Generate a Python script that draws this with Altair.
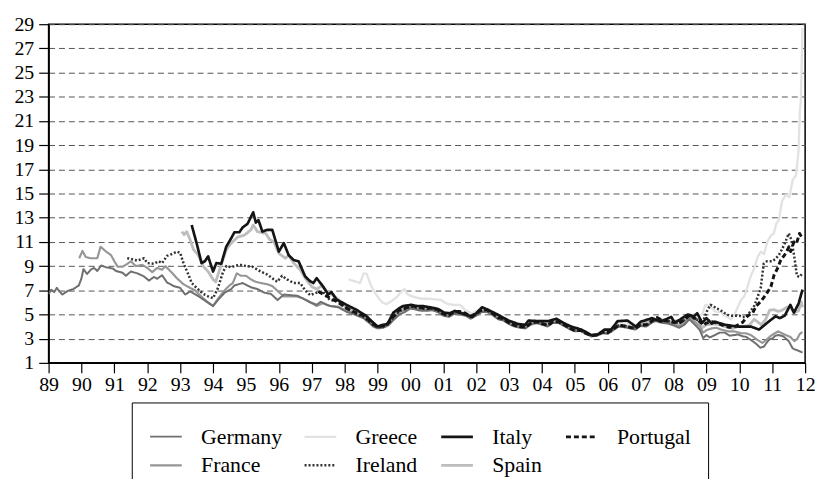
import altair as alt
import pandas as pd

GERMANY = [(1989.00,6.7),(1989.08,7.05),(1989.17,6.85),(1989.25,7.2),(1989.33,6.9),(1989.42,6.65),(1989.58,6.95),(1989.75,7.1),(1989.92,7.4),(1990.00,8.0),(1990.06,8.75),(1990.17,8.35),(1990.28,8.7),(1990.38,8.85),(1990.48,8.6),(1990.60,9.05),(1990.75,8.9),(1990.95,8.8),(1991.05,8.6),(1991.25,8.45),(1991.35,8.2),(1991.50,8.55),(1991.70,8.4),(1991.90,8.15),(1992.05,7.8),(1992.20,8.1),(1992.30,7.95),(1992.45,8.25),(1992.60,7.65),(1992.80,7.35),(1993.00,7.2),(1993.15,6.65),(1993.30,6.9),(1993.50,6.6),(1993.67,6.3),(1993.83,6.0),(1994.00,5.7),(1994.15,6.2),(1994.35,6.8),(1994.55,7.1),(1994.65,7.4),(1994.90,7.6),(1995.15,7.25),(1995.35,7.1),(1995.56,6.8),(1995.76,6.7),(1995.96,6.2),(1996.16,6.65),(1996.35,6.6),(1996.56,6.55),(1996.75,6.3),(1996.97,6.0),(1997.15,5.8),(1997.27,6.05),(1997.45,5.8),(1997.57,5.7),(1997.80,5.6),(1998.07,5.2),(1998.30,5.0),(1998.57,4.7),(1998.75,4.3),(1998.87,4.0),(1999.00,3.85),(1999.17,3.9),(1999.33,4.1),(1999.47,4.5),(1999.67,5.0),(1999.83,5.2),(2000.00,5.5),(2000.17,5.4),(2000.33,5.3),(2000.50,5.3),(2000.67,5.35),(2000.83,5.2),(2001.00,4.9),(2001.17,4.8),(2001.33,5.05),(2001.50,5.0),(2001.67,4.9),(2001.83,4.65),(2002.00,4.9),(2002.17,5.2),(2002.33,5.2),(2002.50,4.95),(2002.67,4.6),(2002.83,4.5),(2003.00,4.2),(2003.17,4.0),(2003.33,3.9),(2003.50,3.85),(2003.67,4.2),(2003.83,4.3),(2004.00,4.15),(2004.17,4.0),(2004.33,4.3),(2004.50,4.3),(2004.67,4.05),(2004.83,3.8),(2005.00,3.6),(2005.17,3.65),(2005.33,3.4),(2005.50,3.2),(2005.67,3.25),(2005.83,3.45),(2006.00,3.4),(2006.17,3.7),(2006.33,4.0),(2006.50,3.95),(2006.67,3.85),(2006.83,3.75),(2007.00,4.05),(2007.17,4.0),(2007.33,4.3),(2007.50,4.55),(2007.67,4.3),(2007.83,4.25),(2008.00,4.1),(2008.17,3.9),(2008.33,4.15),(2008.48,4.6),(2008.67,4.1),(2008.80,3.7),(2008.90,3.05),(2009.00,3.3),(2009.10,3.1),(2009.26,3.3),(2009.40,3.5),(2009.56,3.5),(2009.70,3.25),(2009.85,3.3),(2009.95,3.35),(2010.10,3.2),(2010.20,3.15),(2010.35,2.9),(2010.50,2.6),(2010.64,2.25),(2010.75,2.35),(2010.84,2.7),(2010.92,2.95),(2011.00,3.0),(2011.10,3.25),(2011.20,3.3),(2011.33,3.2),(2011.42,3.0),(2011.50,2.8),(2011.62,2.2),(2011.70,2.1),(2011.80,2.0),(2011.92,1.85)]

FRANCE = [(1989.93,9.65),(1990.03,10.25),(1990.13,9.75),(1990.28,9.65),(1990.48,9.65),(1990.58,10.6),(1990.75,10.2),(1990.90,9.9),(1991.00,9.4),(1991.10,8.95),(1991.25,8.95),(1991.40,9.2),(1991.50,9.4),(1991.65,9.0),(1991.85,9.1),(1992.00,8.85),(1992.15,8.5),(1992.30,8.85),(1992.45,8.7),(1992.55,9.0),(1992.75,8.45),(1992.90,8.0),(1993.10,7.5),(1993.30,7.2),(1993.45,7.0),(1993.60,6.6),(1993.80,6.1),(1994.00,5.7),(1994.15,6.3),(1994.35,7.0),(1994.50,7.4),(1994.60,7.6),(1994.72,8.4),(1994.85,8.2),(1995.00,8.2),(1995.15,7.9),(1995.30,7.7),(1995.45,7.6),(1995.65,7.5),(1995.80,7.35),(1996.00,6.85),(1996.15,6.5),(1996.35,6.5),(1996.55,6.5),(1996.75,6.3),(1996.95,6.0),(1997.15,5.7),(1997.35,5.95),(1997.55,5.7),(1997.80,5.65),(1998.07,5.3),(1998.30,5.1),(1998.57,4.8),(1998.75,4.4),(1998.87,4.1),(1999.00,3.95),(1999.17,4.0),(1999.33,4.2),(1999.47,4.6),(1999.67,5.2),(1999.83,5.35),(2000.00,5.6),(2000.17,5.5),(2000.33,5.4),(2000.50,5.4),(2000.67,5.45),(2000.83,5.3),(2001.00,5.0),(2001.17,4.9),(2001.33,5.2),(2001.50,5.15),(2001.67,5.0),(2001.83,4.75),(2002.00,5.0),(2002.17,5.3),(2002.33,5.3),(2002.50,5.0),(2002.67,4.65),(2002.83,4.55),(2003.00,4.25),(2003.17,4.05),(2003.33,3.95),(2003.50,3.9),(2003.67,4.25),(2003.83,4.35),(2004.00,4.2),(2004.17,4.05),(2004.33,4.35),(2004.50,4.35),(2004.67,4.1),(2004.83,3.85),(2005.00,3.65),(2005.17,3.7),(2005.33,3.45),(2005.50,3.25),(2005.67,3.3),(2005.83,3.5),(2006.00,3.45),(2006.17,3.75),(2006.33,4.05),(2006.50,4.0),(2006.67,3.9),(2006.83,3.8),(2007.00,4.1),(2007.17,4.05),(2007.33,4.35),(2007.50,4.6),(2007.67,4.4),(2007.83,4.35),(2008.00,4.2),(2008.17,4.05),(2008.33,4.3),(2008.48,4.75),(2008.67,4.35),(2008.80,4.0),(2008.90,3.5),(2009.00,3.7),(2009.15,3.85),(2009.30,3.9),(2009.45,3.75),(2009.66,3.6),(2009.85,3.6),(2010.05,3.45),(2010.20,3.45),(2010.35,3.3),(2010.55,2.9),(2010.70,2.65),(2010.82,2.9),(2010.94,3.2),(2011.05,3.4),(2011.18,3.6),(2011.33,3.4),(2011.45,3.25),(2011.55,3.15),(2011.67,2.8),(2011.75,2.95),(2011.84,3.4),(2011.92,3.55)]

IRELAND = [(1991.39,9.65),(1991.50,9.6),(1991.70,9.45),(1991.90,9.65),(1992.00,9.25),(1992.20,9.2),(1992.35,9.4),(1992.45,9.25),(1992.60,9.85),(1992.75,10.0),(1992.90,10.2),(1993.00,10.1),(1993.10,9.25),(1993.25,8.3),(1993.35,7.6),(1993.50,7.2),(1993.70,6.7),(1993.85,6.5),(1994.00,6.35),(1994.15,7.2),(1994.30,8.5),(1994.40,9.0),(1994.55,8.9),(1994.70,9.05),(1994.85,9.1),(1995.00,9.0),(1995.20,8.95),(1995.45,8.55),(1995.65,8.3),(1995.95,7.7),(1996.10,8.2),(1996.25,7.9),(1996.45,7.6),(1996.65,7.6),(1996.80,7.0),(1996.95,6.6),(1997.15,6.8),(1997.35,6.85),(1997.55,6.2),(1997.80,6.1),(1998.07,5.5),(1998.30,5.1),(1998.57,4.8),(1998.75,4.4),(1998.87,4.15),(1999.00,3.95),(1999.17,4.0),(1999.33,4.25),(1999.47,4.7),(1999.67,5.3),(1999.83,5.45),(2000.00,5.65),(2000.17,5.55),(2000.33,5.5),(2000.50,5.45),(2000.67,5.5),(2000.83,5.35),(2001.00,5.0),(2001.17,4.9),(2001.33,5.2),(2001.50,5.2),(2001.67,5.05),(2001.83,4.8),(2002.00,5.05),(2002.17,5.35),(2002.33,5.35),(2002.50,5.05),(2002.67,4.7),(2002.83,4.6),(2003.00,4.3),(2003.17,4.1),(2003.33,4.0),(2003.50,3.95),(2003.67,4.3),(2003.83,4.4),(2004.00,4.25),(2004.17,4.1),(2004.33,4.4),(2004.50,4.4),(2004.67,4.15),(2004.83,3.9),(2005.00,3.7),(2005.17,3.7),(2005.33,3.45),(2005.50,3.25),(2005.67,3.3),(2005.83,3.5),(2006.00,3.5),(2006.17,3.8),(2006.33,4.1),(2006.50,4.05),(2006.67,3.95),(2006.83,3.85),(2007.00,4.15),(2007.17,4.1),(2007.33,4.4),(2007.50,4.7),(2007.67,4.5),(2007.83,4.45),(2008.00,4.35),(2008.17,4.3),(2008.33,4.55),(2008.48,4.9),(2008.67,4.6),(2008.80,4.5),(2008.92,4.6),(2009.02,5.3),(2009.12,5.8),(2009.21,5.7),(2009.30,5.5),(2009.40,5.4),(2009.56,5.1),(2009.70,4.9),(2009.85,4.9),(2010.00,4.9),(2010.10,4.8),(2010.20,4.8),(2010.35,5.3),(2010.45,5.7),(2010.55,6.4),(2010.65,7.2),(2010.74,9.2),(2010.84,9.4),(2011.00,9.4),(2011.10,9.6),(2011.20,9.9),(2011.30,10.4),(2011.40,11.0),(2011.50,11.7),(2011.58,11.2),(2011.67,9.8),(2011.75,8.2),(2011.83,8.1),(2011.92,8.4)]

GREECE = [(1998.12,7.9),(1998.30,7.75),(1998.47,7.6),(1998.58,8.4),(1998.67,8.35),(1998.80,7.4),(1998.92,6.8),(1999.05,6.3),(1999.15,6.0),(1999.27,5.85),(1999.42,6.1),(1999.57,6.4),(1999.70,6.8),(1999.82,7.1),(1999.90,6.7),(2000.00,6.55),(2000.17,6.4),(2000.35,6.3),(2000.57,6.3),(2000.75,6.25),(2000.93,6.2),(2001.10,5.9),(2001.28,5.8),(2001.50,5.8),(2001.68,5.35),(2001.88,5.05),(2002.00,5.3),(2002.18,5.55),(2002.38,5.45),(2002.68,5.0),(2002.98,4.5),(2003.28,4.3),(2003.49,4.1),(2003.59,4.3),(2003.89,4.5),(2004.19,4.45),(2004.44,4.6),(2004.69,4.3),(2004.89,3.95),(2005.20,3.75),(2005.50,3.3),(2005.70,3.35),(2005.90,3.7),(2006.10,3.75),(2006.30,4.35),(2006.60,4.35),(2006.85,4.0),(2007.00,4.35),(2007.35,4.65),(2007.60,4.6),(2007.93,4.55),(2008.18,4.45),(2008.43,4.9),(2008.62,5.0),(2008.75,4.9),(2008.87,5.0),(2008.97,5.8),(2009.10,5.7),(2009.26,5.25),(2009.45,5.2),(2009.60,4.85),(2009.75,4.6),(2009.85,5.0),(2009.95,5.6),(2010.05,6.2),(2010.15,6.5),(2010.25,7.3),(2010.35,8.2),(2010.45,8.8),(2010.55,9.7),(2010.65,10.2),(2010.75,10.0),(2010.85,11.0),(2010.95,11.5),(2011.05,11.7),(2011.12,12.5),(2011.20,12.8),(2011.30,14.4),(2011.42,14.9),(2011.52,14.7),(2011.62,16.1),(2011.72,16.5),(2011.80,18.5),(2011.84,21.8),(2011.87,22.6),(2011.92,28.7)]

ITALY = [(1993.35,12.4),(1993.50,10.9),(1993.65,9.25),(1993.75,9.4),(1993.85,9.8),(1994.00,8.55),(1994.10,9.25),(1994.25,9.2),(1994.40,10.6),(1994.55,11.3),(1994.65,11.8),(1994.80,11.8),(1994.90,12.2),(1995.05,12.5),(1995.22,13.45),(1995.30,12.6),(1995.38,12.8),(1995.50,11.85),(1995.65,12.0),(1995.80,12.0),(1996.00,10.2),(1996.15,10.9),(1996.30,9.9),(1996.45,9.5),(1996.60,9.4),(1996.80,8.15),(1996.95,7.75),(1997.05,7.6),(1997.15,8.0),(1997.35,7.3),(1997.50,6.65),(1997.60,6.85),(1997.75,6.25),(1998.05,5.8),(1998.35,5.4),(1998.65,4.9),(1998.80,4.5),(1999.00,4.0),(1999.17,4.15),(1999.30,4.2),(1999.48,5.15),(1999.65,5.5),(1999.78,5.7),(2000.03,5.8),(2000.20,5.7),(2000.38,5.7),(2000.68,5.55),(2000.85,5.45),(2001.03,5.15),(2001.20,5.1),(2001.35,5.3),(2001.48,5.15),(2001.68,5.0),(2001.88,4.8),(2002.00,5.1),(2002.18,5.6),(2002.38,5.35),(2002.68,4.95),(2002.98,4.5),(2003.28,4.2),(2003.49,4.15),(2003.59,4.5),(2003.89,4.45),(2004.19,4.45),(2004.44,4.65),(2004.69,4.25),(2004.89,4.0),(2005.20,3.75),(2005.50,3.3),(2005.70,3.35),(2005.90,3.75),(2006.10,3.75),(2006.30,4.45),(2006.60,4.5),(2006.85,4.0),(2007.00,4.4),(2007.35,4.7),(2007.60,4.4),(2007.93,4.8),(2008.03,4.35),(2008.18,4.55),(2008.43,5.0),(2008.62,4.85),(2008.72,5.1),(2008.87,4.3),(2009.00,4.7),(2009.16,4.25),(2009.26,4.4),(2009.56,4.15),(2009.95,4.0),(2010.35,4.0),(2010.60,3.75),(2010.84,4.3),(2011.10,4.85),(2011.23,4.7),(2011.38,4.9),(2011.55,5.8),(2011.66,5.15),(2011.80,5.9),(2011.92,7.05)]

PORTUGAL = [(1997.20,6.9),(1997.40,6.6),(1997.60,6.3),(1997.80,6.0),(1998.07,5.5),(1998.30,5.2),(1998.57,4.9),(1998.75,4.5),(1998.87,4.2),(1999.00,4.0),(1999.17,4.05),(1999.33,4.3),(1999.47,4.8),(1999.67,5.4),(1999.83,5.5),(2000.00,5.7),(2000.17,5.65),(2000.33,5.55),(2000.50,5.5),(2000.67,5.55),(2000.83,5.4),(2001.00,5.05),(2001.17,4.95),(2001.33,5.25),(2001.50,5.25),(2001.67,5.1),(2001.83,4.85),(2002.00,5.1),(2002.17,5.4),(2002.33,5.4),(2002.50,5.1),(2002.67,4.75),(2002.83,4.65),(2003.00,4.3),(2003.17,4.1),(2003.33,4.0),(2003.50,3.95),(2003.67,4.3),(2003.83,4.4),(2004.00,4.25),(2004.17,4.1),(2004.33,4.4),(2004.50,4.4),(2004.67,4.15),(2004.83,3.9),(2005.00,3.65),(2005.17,3.7),(2005.33,3.45),(2005.50,3.25),(2005.67,3.3),(2005.83,3.55),(2006.00,3.5),(2006.17,3.8),(2006.33,4.1),(2006.50,4.05),(2006.67,3.95),(2006.83,3.85),(2007.00,4.15),(2007.17,4.15),(2007.33,4.45),(2007.50,4.75),(2007.67,4.5),(2007.83,4.45),(2008.00,4.35),(2008.17,4.3),(2008.33,4.55),(2008.48,4.95),(2008.67,4.65),(2008.80,4.4),(2008.92,4.1),(2009.00,4.3),(2009.17,4.4),(2009.33,4.3),(2009.50,4.1),(2009.67,3.95),(2009.83,3.95),(2010.00,4.2),(2010.10,4.35),(2010.26,4.9),(2010.41,5.15),(2010.51,5.7),(2010.66,6.1),(2010.81,6.65),(2010.96,7.3),(2011.06,8.3),(2011.16,8.8),(2011.26,9.5),(2011.41,10.05),(2011.51,10.6),(2011.56,10.2),(2011.66,11.0),(2011.74,10.9),(2011.83,11.7),(2011.92,11.3)]

SPAIN = [(1993.05,11.85),(1993.12,11.6),(1993.20,11.85),(1993.30,11.2),(1993.40,10.4),(1993.55,9.9),(1993.70,9.0),(1993.85,8.55),(1994.00,7.9),(1994.08,7.7),(1994.20,8.7),(1994.40,10.35),(1994.55,10.9),(1994.75,11.4),(1994.95,11.55),(1995.15,12.0),(1995.22,12.4),(1995.35,11.85),(1995.60,11.7),(1995.72,11.2),(1995.85,11.0),(1996.00,10.05),(1996.20,9.65),(1996.30,9.9),(1996.45,9.25),(1996.65,8.7),(1996.80,8.0),(1997.00,7.3),(1997.15,7.1),(1997.30,7.35),(1997.50,6.8),(1997.70,6.5),(1998.05,5.6),(1998.35,5.2),(1998.65,4.75),(1998.80,4.35),(1999.00,3.95),(1999.17,4.05),(1999.30,4.2),(1999.48,4.9),(1999.65,5.35),(1999.78,5.5),(2000.03,5.7),(2000.20,5.6),(2000.38,5.55),(2000.68,5.45),(2000.85,5.35),(2001.03,5.05),(2001.20,5.0),(2001.35,5.25),(2001.48,5.2),(2001.68,5.05),(2001.88,4.75),(2002.00,5.0),(2002.18,5.35),(2002.38,5.3),(2002.68,4.85),(2002.98,4.35),(2003.28,4.1),(2003.49,4.0),(2003.59,4.1),(2003.89,4.35),(2004.19,4.2),(2004.44,4.45),(2004.69,4.15),(2004.89,3.9),(2005.20,3.65),(2005.50,3.2),(2005.70,3.3),(2005.90,3.55),(2006.10,3.6),(2006.30,4.1),(2006.60,4.05),(2006.85,3.85),(2007.00,4.15),(2007.35,4.5),(2007.60,4.35),(2007.93,4.4),(2008.18,4.2),(2008.43,4.7),(2008.62,4.65),(2008.75,4.5),(2008.87,3.9),(2009.00,4.15),(2009.16,4.2),(2009.35,4.2),(2009.56,4.0),(2009.80,3.85),(2009.95,4.0),(2010.10,4.0),(2010.30,4.1),(2010.45,4.6),(2010.55,4.4),(2010.67,4.15),(2010.80,4.6),(2010.92,5.35),(2011.05,5.4),(2011.18,5.25),(2011.30,5.35),(2011.45,5.6),(2011.55,5.6),(2011.66,5.15),(2011.80,5.3),(2011.88,6.05),(2011.92,5.6)]

SERIES = {"Germany": GERMANY, "France": FRANCE, "Greece": GREECE, "Ireland": IRELAND,
          "Italy": ITALY, "Spain": SPAIN, "Portugal": PORTUGAL}
# legend fills column by column: (Germany, France), (Greece, Ireland), (Italy, Spain), (Portugal)
LEGEND_ORDER = ["Germany", "France", "Greece", "Ireland", "Italy", "Spain", "Portugal"]
COLORS = ["#6f6f6f", "#969696", "#e2e2e2", "#333333", "#141414", "#bdbdbd", "#141414"]
WIDTHS = [2.0, 3.0, 3.0, 1.6, 2.4, 2.6, 2.0]
DASHES = [[1, 0], [1, 0], [1, 0], [2, 2], [1, 0], [1, 0], [5, 3]]
DRAW_ORDER = ["Greece", "Spain", "France", "Germany", "Ireland", "Portugal", "Italy"]
YEARS = list(range(1989, 2013))
Y_TICKS = list(range(1, 30, 2))

rows = [{"country": c, "t": t, "v": v} for c, pts in SERIES.items() for t, v in pts]
df = pd.DataFrame(rows)

FONT = "Liberation Serif"

legend = alt.Legend(
    title=None, orient="none", legendX=84, legendY=382, columns=4, direction="vertical",
    symbolType="stroke", symbolSize=1024, labelFont=FONT, labelFontSize=22,
    labelColor="black", labelOffset=18, strokeColor="black", fillColor="white",
    padding=17, columnPadding=17, rowPadding=0, labelLimit=200,
)

base = alt.Chart(df).mark_line(strokeCap="butt", strokeJoin="round", clip=True).encode(
    x=alt.X("t:Q", scale=alt.Scale(domain=[1989, 2012], nice=False, zero=False),
            axis=alt.Axis(values=YEARS, labelExpr="substring(toString(datum.value), 2)",
                          title=None, grid=False, labelFont=FONT, labelFontSize=20,
                          labelColor="black", tickColor="black", tickSize=10, tickWidth=1.2,
                          domainColor="black", domainWidth=1.5, labelPadding=2,
                          labelOverlap=False, labelFlush=False)),
    y=alt.Y("v:Q", scale=alt.Scale(domain=[1, 29], nice=False, zero=False),
            axis=alt.Axis(values=Y_TICKS, title=None, grid=True, gridDash=[6, 4],
                          gridColor="#555555", gridWidth=1, labelFont=FONT, labelFontSize=20,
                          labelColor="black", tickColor="black", tickSize=10, tickWidth=1.2,
                          domainColor="black", domainWidth=1.5, labelPadding=5,
                          labelOverlap=False, labelFlush=False)),
    color=alt.Color("country:N", scale=alt.Scale(domain=LEGEND_ORDER, range=COLORS), legend=legend),
    strokeDash=alt.StrokeDash("country:N", scale=alt.Scale(domain=LEGEND_ORDER, range=DASHES), legend=legend),
    strokeWidth=alt.StrokeWidth("country:N", scale=alt.Scale(domain=LEGEND_ORDER, range=WIDTHS), legend=legend),
)

layers = [base.transform_filter(alt.datum.country == c) for c in DRAW_ORDER]

chart = alt.layer(*layers).properties(
    width=764, height=342,
    padding={"left": 41, "top": 14, "right": 13, "bottom": 123},
    autosize=alt.AutoSizeParams(type="none"),
).configure_view(stroke="black", strokeWidth=1.5)

chart.save("out.html", embed_options={"renderer": "svg", "actions": False})
